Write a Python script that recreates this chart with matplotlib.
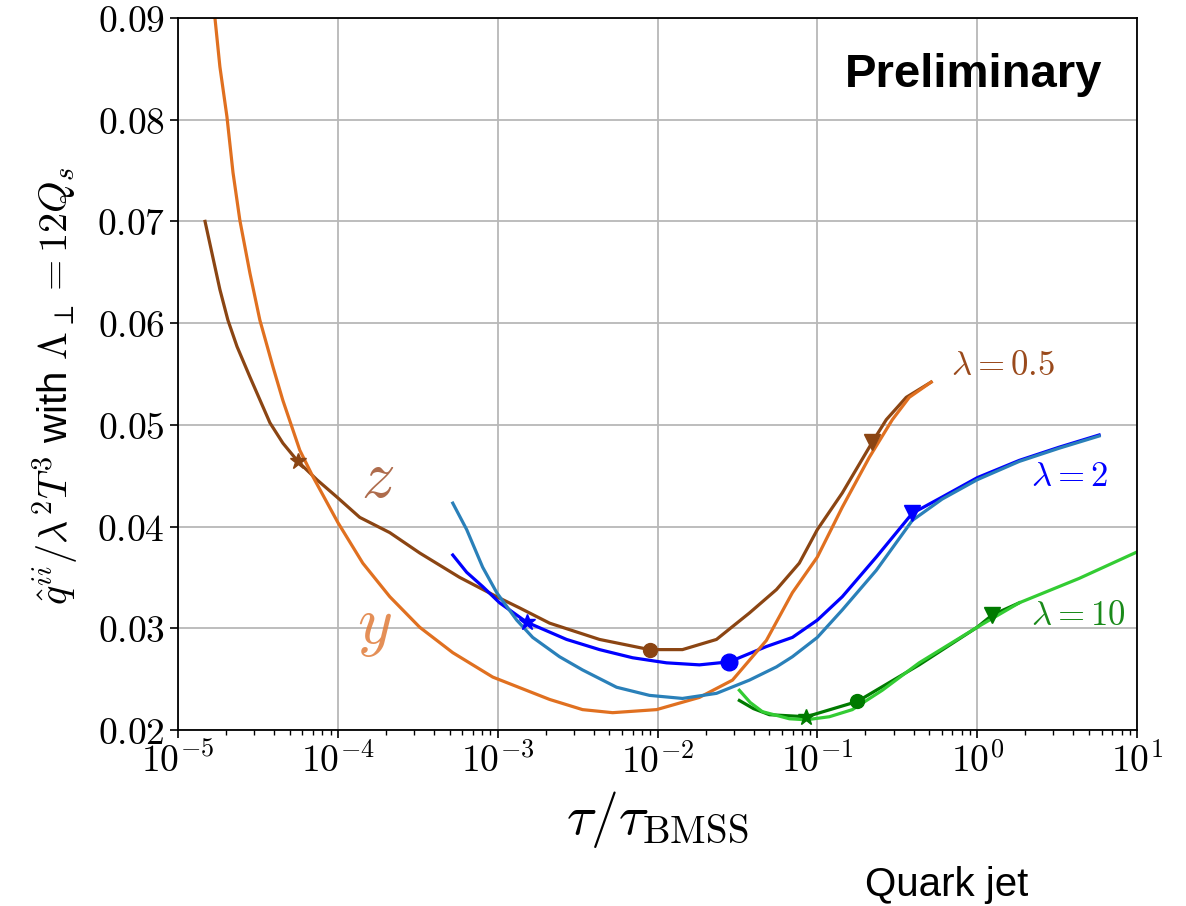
import numpy as np
import matplotlib.pyplot as plt
from matplotlib.ticker import FixedLocator, FuncFormatter, LogLocator, NullFormatter

plt.rcParams['font.family'] = ['Liberation Sans', 'DejaVu Sans']
plt.rcParams['mathtext.fontset'] = 'cm'

# log10(tau/tau_BMSS) and qhat values
# lambda = 0.5, z component
z05_lt = [-4.831, -4.788, -4.738, -4.688, -4.631, -4.55, -4.425, -4.344, -4.25, -4.131,
          -4.006, -3.863, -3.675, -3.488, -3.238, -3.006, -2.863, -2.675, -2.363, -2.05,
          -1.844, -1.631, -1.425, -1.256, -1.113, -1.0, -0.844, -0.656, -0.569, -0.444, -0.288]
z05_q = [0.0700, 0.0669, 0.0633, 0.0603, 0.0577, 0.0547, 0.0502, 0.0482, 0.0464, 0.0446,
         0.0429, 0.0409, 0.0394, 0.0374, 0.0350, 0.0331, 0.0320, 0.0305, 0.0289, 0.0279,
         0.0279, 0.0289, 0.0315, 0.0338, 0.0364, 0.0397, 0.0433, 0.0483, 0.0505, 0.0527, 0.0542]
# lambda = 0.5, y component
y05_lt = [-4.788, -4.769, -4.738, -4.694, -4.656, -4.613, -4.55, -4.488, -4.406, -4.344,
          -4.238, -4.156, -4.0, -3.844, -3.675, -3.488, -3.281, -3.031, -2.675, -2.469,
          -2.281, -2.006, -1.738, -1.531, -1.319, -1.156, -1.0, -0.844, -0.675, -0.531,
          -0.425, -0.288]
y05_q = [0.0910, 0.0900, 0.0852, 0.0803, 0.0748, 0.0701, 0.0649, 0.0603, 0.0557, 0.0524,
         0.0475, 0.0449, 0.0404, 0.0364, 0.0331, 0.0301, 0.0276, 0.0252, 0.0230, 0.0220,
         0.0217, 0.0220, 0.0232, 0.0249, 0.0288, 0.0335, 0.0370, 0.0419, 0.0468, 0.0505,
         0.0527, 0.0542]
# lambda = 2, z component
z2_lt = [-3.281, -3.194, -3.094, -2.988, -2.819, -2.569, -2.363, -2.156, -1.944, -1.738,
         -1.55, -1.319, -1.156, -1.0, -0.844, -0.631, -0.406, -0.219, 0.0, 0.263, 0.513, 0.763]
z2_q = [0.0372, 0.0355, 0.0341, 0.0325, 0.0306, 0.0289, 0.0279, 0.0271, 0.0266, 0.0264,
        0.0267, 0.0282, 0.0291, 0.0308, 0.0331, 0.0370, 0.0413, 0.0429, 0.0448, 0.0465,
        0.0478, 0.0490]
# lambda = 2, y component
y2_lt = [-3.281, -3.194, -3.094, -3.006, -2.881, -2.781, -2.613, -2.469, -2.256, -2.05,
         -1.844, -1.631, -1.425, -1.256, -1.156, -1.0, -0.844, -0.631, -0.406, -0.219,
         0.0, 0.263, 0.513, 0.763]
y2_q = [0.0423, 0.0397, 0.0360, 0.0335, 0.0308, 0.0291, 0.0272, 0.0259, 0.0242, 0.0234,
        0.0231, 0.0236, 0.0249, 0.0262, 0.0272, 0.0291, 0.0318, 0.0357, 0.0406, 0.0427,
        0.0446, 0.0464, 0.0477, 0.0489]
# lambda = 10, z component
z10_lt = [-1.488, -1.4, -1.3, -1.069, -0.75, -0.363, 0.0, 0.094, 0.263]
z10_q = [0.0229, 0.0221, 0.0215, 0.0213, 0.0228, 0.0264, 0.0301, 0.0313, 0.0325]
# lambda = 10, y component
y10_lt = [-1.488, -1.42, -1.344, -1.175, -1.069, -0.925, -0.781, -0.594, -0.363, 0.0,
          0.263, 0.638, 1.0]
y10_q = [0.0239, 0.0227, 0.0218, 0.0211, 0.0210, 0.0213, 0.0220, 0.0239, 0.0266, 0.0301,
         0.0325, 0.0349, 0.0375]

# marker points (star, dot, triangle) on the z curves
mk05_lt = [-4.25, -2.05, -0.656]
mk05_q = [0.0464, 0.0279, 0.0483]
mk2_lt = [-2.819, -1.55, -0.406]
mk2_q = [0.0306, 0.0267, 0.0413]
mk10_lt = [-1.069, -0.75, 0.094]
mk10_q = [0.0213, 0.0228, 0.0313]

c_brown = '#8b4513'
c_orange = '#e07020'
c_blue = '#0000ff'
c_steel = '#2a80b9'
c_dgreen = '#007a00'
c_lgreen = '#33cc33'

fig = plt.figure(figsize=(11.86, 9.06), dpi=100)
ax = fig.add_axes([0.1501, 0.1943, 0.8086, 0.7859])


def tau(lt):
    return 10.0 ** np.array(lt)


# z curves first, y curves on top
ax.plot(tau(z05_lt), z05_q, color=c_brown, lw=2.3)
ax.plot(tau(z2_lt), z2_q, color=c_blue, lw=2.3)
ax.plot(tau(z10_lt), z10_q, color=c_dgreen, lw=2.3)
ax.plot(tau(y05_lt), y05_q, color=c_orange, lw=2.3)
ax.plot(tau(y2_lt), y2_q, color=c_steel, lw=2.3)
ax.plot(tau(y10_lt), y10_q, color=c_lgreen, lw=2.3)

# markers
for lt, q, c in [(mk05_lt, mk05_q, c_brown), (mk2_lt, mk2_q, c_blue), (mk10_lt, mk10_q, c_dgreen)]:
    t = tau(lt)
    ax.plot(t[0], q[0], marker='*', ms=12, color=c)
    ax.plot(t[1], q[1], marker='o', ms=12 if c == c_blue else 10, color=c)
    ax.plot(t[2], q[2], marker='v', ms=11, color=c)

ax.set_xscale('log')
ax.set_xlim(1e-5, 10)
ax.set_ylim(0.02, 0.09)
ax.xaxis.set_major_locator(LogLocator(base=10, numticks=10))
ax.xaxis.set_major_formatter(FuncFormatter(lambda v, p: r'$10^{%d}$' % round(np.log10(v))))
ax.xaxis.set_minor_locator(LogLocator(base=10, subs=np.arange(2, 10), numticks=20))
ax.xaxis.set_minor_formatter(NullFormatter())
ax.yaxis.set_major_locator(FixedLocator([0.02, 0.03, 0.04, 0.05, 0.06, 0.07, 0.08, 0.09]))
ax.yaxis.set_major_formatter(FuncFormatter(lambda v, p: r'$%.2f$' % v))
ax.tick_params(axis='both', which='major', labelsize=27, length=6, width=1.2)
ax.tick_params(axis='x', which='minor', length=3.5, width=1.0)
ax.grid(True, which='major', color='#b8b8b8', lw=1.3)
for s in ax.spines.values():
    s.set_linewidth(1.3)

ax.set_xlabel(r'$\tau/\tau_{\rm BMSS}$', fontsize=40, labelpad=6)
ax.set_ylabel(r'$\hat{q}^{ii}/\lambda^2T^3$ with $\Lambda_\perp=12Q_s$', fontsize=29)
ax.yaxis.set_label_coords(-0.102, 0.483)

# curve labels
ax.text(10 ** -0.1625, 0.0558, r'$\lambda=0.5$', color='#9a4a1c', fontsize=25, va='center')
ax.text(10 ** 0.3375, 0.0449, r'$\lambda=2$', color=c_blue, fontsize=25, va='center')
ax.text(10 ** 0.3375, 0.0313, r'$\lambda=10$', color='#1a8a1a', fontsize=25, va='center')
ax.text(10 ** -3.75, 0.0446, r'$z$', color='#a0522d', fontsize=48, ha='center', va='center', alpha=0.85)
ax.text(10 ** -3.77, 0.0300, r'$y$', color='#e07b39', fontsize=48, ha='center', va='center', alpha=0.85)

fig.text(0.7125, 0.917, 'Preliminary', fontsize=34, fontweight='bold', va='center')
fig.text(0.729, 0.023, 'Quark jet', fontsize=29, va='center')

fig.savefig('out.png', dpi=100)
